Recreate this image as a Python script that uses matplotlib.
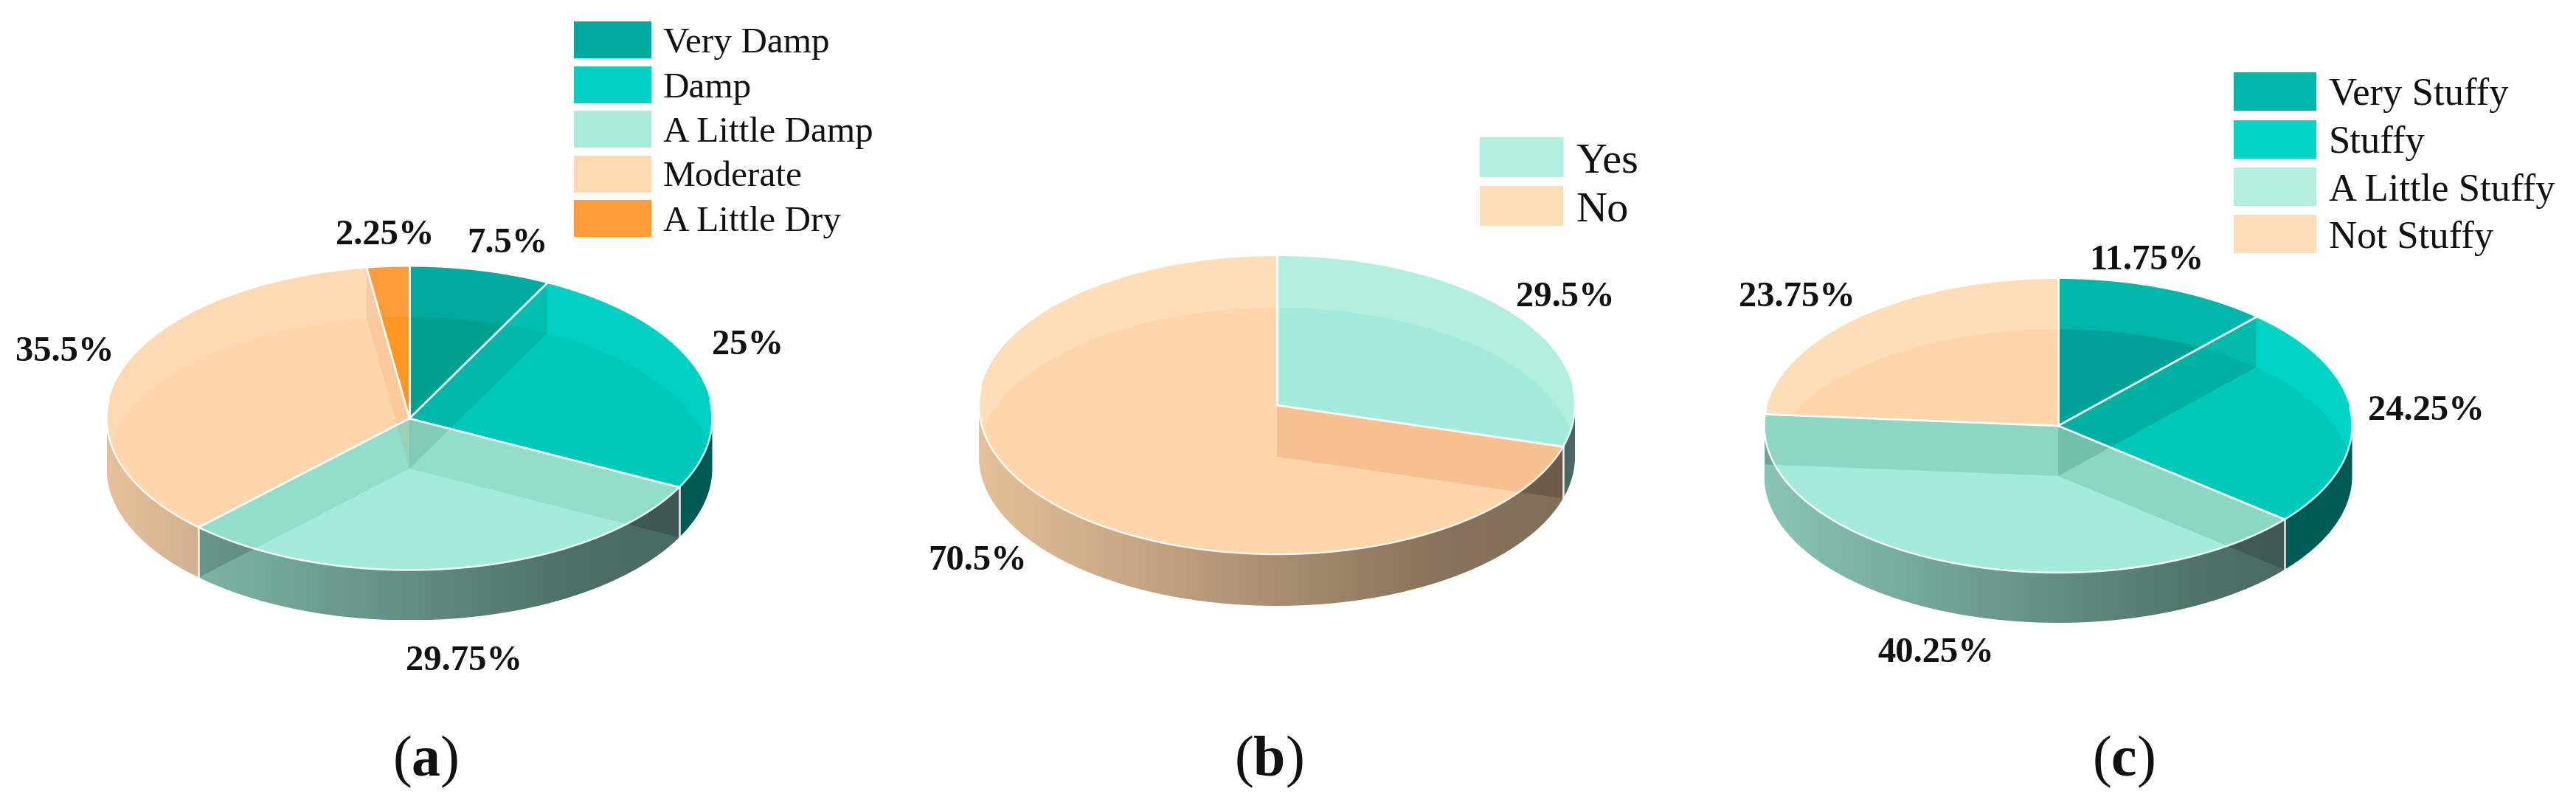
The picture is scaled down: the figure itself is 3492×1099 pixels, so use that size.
import numpy as np
import matplotlib
matplotlib.use('Agg')
import matplotlib.pyplot as plt
from matplotlib.colors import to_rgb
from matplotlib.patches import Ellipse, Polygon, Rectangle

plt.rcParams['font.family'] = ['Liberation Serif', 'DejaVu Serif']
plt.rcParams['mathtext.fontset'] = 'custom'
plt.rcParams['mathtext.rm'] = 'Liberation Serif'
plt.rcParams['mathtext.bf'] = 'Liberation Serif:bold'

# data
names_a = ['Very Damp', 'Damp', 'A Little Damp', 'Moderate', 'A Little Dry']
values_a = [7.5, 25, 29.75, 35.5, 2.25]
names_b = ['Yes', 'No']
values_b = [29.5, 70.5]
names_c = ['Very Stuffy', 'Stuffy', 'A Little Stuffy', 'Not Stuffy']
values_c = [11.75, 24.25, 40.25, 23.75]

# colours: top surface outside / inside the see-through bottom ellipse
outer_a = ['#00AA9E', '#00D0C2', '#ABEBDC', '#FFD9B3', '#FF9C3A']
inner_a = ['#00A08F', '#00C9BA', '#A3EBDA', '#FFD6AC', '#FF9620']
outer_b = ['#B2EFDE', '#FEDDB9']
inner_b = ['#A3EBDA', '#FFD6AA']
outer_c = ['#00B5A9', '#00D4C6', '#A3EBDA', '#FEDDB9']
inner_c = ['#00A297', '#00C9BA', '#A3EBDA', '#FFD6AA']
swatch_c = ['#00B5A9', '#00D4C6', '#B2EFDE', '#FEDDB9']

W, H = 3492, 1099
fig = plt.figure(figsize=(W / 100, H / 100), dpi=100, facecolor='w')
ax = fig.add_axes([0, 0, 1, 1])


def rim(cx, cy, rx, ry, th):
    return np.column_stack((cx + rx * np.sin(th), cy - ry * np.cos(th)))


def pie3d(cx, cy, rx, ry, depth, values, outer, inner, wall_alpha):
    edges = np.radians(np.cumsum([0] + list(values)) * 3.6)

    # front wall, shaded left to right
    for k in range(len(values)):
        a0 = max(edges[k], np.pi / 2)
        a1 = min(edges[k + 1], 3 * np.pi / 2)
        if a1 <= a0:
            continue
        th = np.linspace(a0, a1, 120)
        up = rim(cx, cy, rx, ry, th)
        down = rim(cx, cy + depth, rx, ry, th[::-1])
        clip = Polygon(np.vstack((up, down)), closed=True, fc='none', ec='none')
        ax.add_patch(clip)
        rgb = np.array(to_rgb(inner[k]))
        u = np.linspace(0, 1, 300)
        shade = np.interp(u, [0, 0.78, 1], [0.84, 0.47, 0.45])
        if rgb[0] > 0.9:
            shade = shade + 0.06
        img = rgb[None, None, :] * shade[None, :, None]
        im = ax.imshow(img, extent=(cx - rx, cx + rx, cy + ry + depth, cy - ry),
                       aspect='auto', interpolation='bilinear', zorder=1)
        im.set_clip_path(clip)

    # top surface
    top = Ellipse((cx, cy), 2 * rx, 2 * ry, fc='none', ec='none')
    lower = Ellipse((cx, cy + depth), 2 * rx, 2 * ry, fc='none', ec='none')
    ax.add_patch(top)
    ax.add_patch(lower)
    for k in range(len(values)):
        th = np.linspace(edges[k], edges[k + 1], 200)
        pts = np.vstack(([cx, cy], rim(cx, cy, rx, ry, th)))
        ax.add_patch(Polygon(pts, closed=True, fc=outer[k], ec='none', zorder=2))
        p = Polygon(pts, closed=True, fc=inner[k], ec='none', zorder=3)
        ax.add_patch(p)
        p.set_clip_path(lower)

    # inner walls seen through the surface
    n = len(values)
    for k, a in enumerate(edges[:-1]):
        end = rim(cx, cy, rx, ry, np.array([a]))[0]
        pts = [[cx, cy], end, end + [0, depth], [cx, cy + depth]]
        # the slice lying under this edge tints the wall
        under = k if a < np.pi else (k - 1) % n
        base = np.array(to_rgb(inner[under]))
        tint = base ** 4 * (0.85 if base[0] > 0.9 else 0.7)
        w = Polygon(pts, closed=True, fc=tint, ec='none', alpha=wall_alpha, zorder=4)
        ax.add_patch(w)
        w.set_clip_path(top)
        ax.add_patch(Polygon(pts, closed=True, fc='k', ec='none', alpha=0.17, zorder=1.5))

    # white seams
    th = np.linspace(np.pi / 2 - 0.12, 3 * np.pi / 2 + 0.12, 300)
    front = rim(cx, cy, rx, ry, th)
    ax.plot(front[:, 0], front[:, 1], color='w', lw=1.8, alpha=0.9, zorder=5)
    for a in edges[:-1]:
        end = rim(cx, cy, rx, ry, np.array([a]))[0]
        ax.plot([cx, end[0]], [cy, end[1]], color='w', lw=2.0, zorder=6)
        if np.cos(a) < 0:
            ax.plot([end[0], end[0]], [end[1], end[1] + depth], color='w', lw=1.8, alpha=0.9, zorder=6)


def legend(x0, x1, tx, rows, h, names, colors, size):
    for y, name, c in zip(rows, names, colors):
        ax.add_patch(Rectangle((x0, y - h / 2), x1 - x0, h, fc=c, ec='none', zorder=2))
        ax.text(tx, y, name, fontsize=size, color='#111111', ha='left', va='center_baseline')


def labels(values, spots):
    for v, (x, y) in zip(values, spots):
        ax.text(x, y, f'{v:g}%', fontsize=35, fontweight='bold', color='#111111',
                ha='center', va='center_baseline')


pie3d(555, 567, 410.5, 205.5, 68, values_a, outer_a, inner_a, 0.12)
pie3d(1731, 549, 404, 202, 70, values_b, outer_b, inner_b, 0.2)
pie3d(2790, 577, 398.5, 199, 68, values_c, outer_c, inner_c, 0.18)

legend(778, 883, 899, [54, 115, 175, 235.5, 296], 50, names_a, outer_a, 35.5)
legend(2006, 2119, 2136, [213, 279], 54, names_b, outer_b, 42)
legend(3028, 3140, 3157, [123.5, 188.5, 253, 317], 52, names_c, swatch_c, 38)

labels(values_a, [(688, 325), (1014, 463), (629, 891), (88, 472), (522, 314)])
labels(values_b, [(2122, 398), (1325, 755)])
labels(values_c, [(2910, 348), (3289, 552), (2624, 880), (2436, 398)])

for x, s in [(577, 'a'), (1720, 'b'), (2878, 'c')]:
    ax.text(x, 1023, '($\\mathbf{' + s + '}$)', fontsize=56, color='#111111', ha='center', va='center_baseline')

ax.set_xlim(0, W)
ax.set_ylim(H, 0)
ax.axis('off')
plt.savefig('out.png', dpi=100)
